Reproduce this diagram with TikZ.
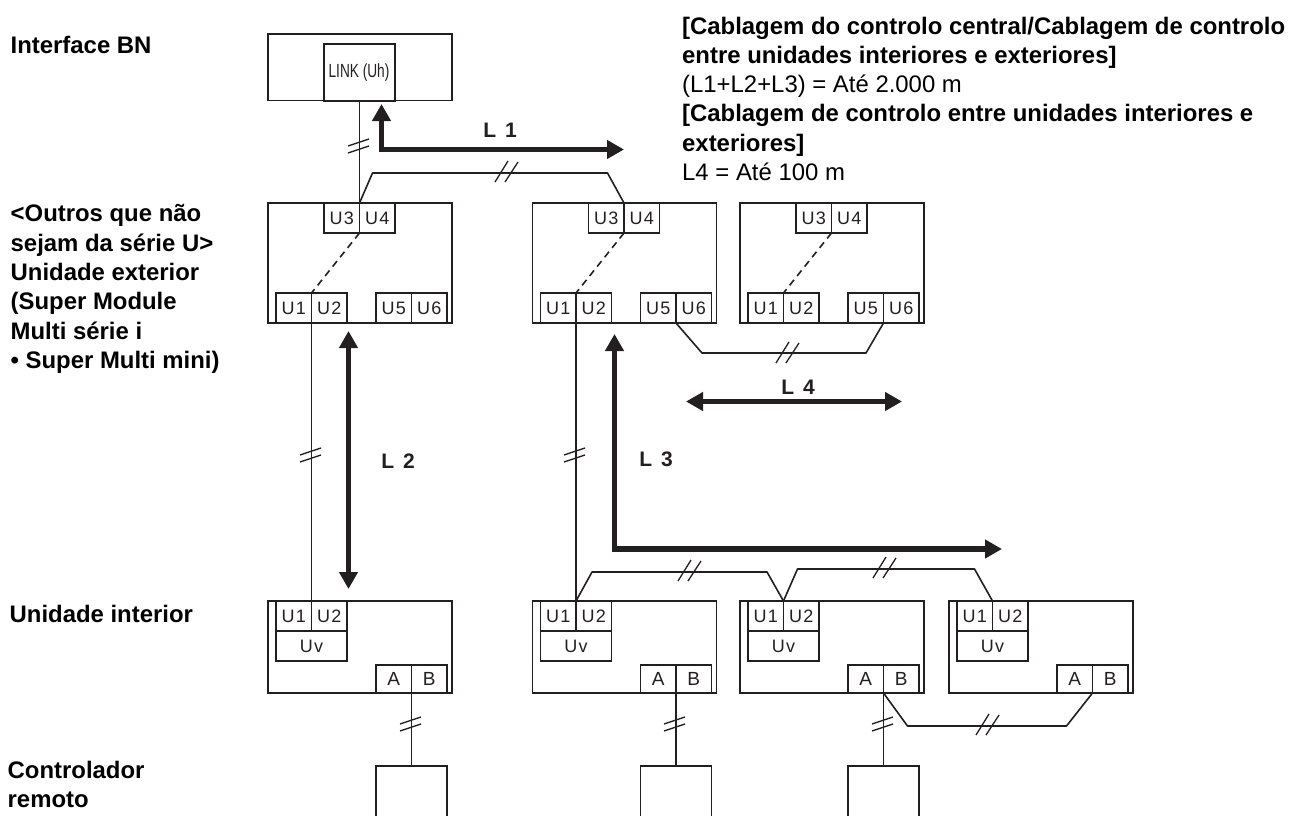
\documentclass[tikz,border=0pt]{standalone}
\usepackage{fontspec}
\setmainfont{Liberation Sans}
\newfontfamily\termfont[LetterSpace=6]{Liberation Sans}
\newfontfamily\linkfont[FakeStretch=0.72]{Liberation Sans}
\usetikzlibrary{arrows.meta,calc}
\definecolor{ink}{HTML}{231F20}
\tikzset{
  unitbox/.style={draw=ink,line width=1.6pt,anchor=north west,inner sep=0pt,outer sep=0pt,minimum width=184pt},
  term/.style={unitbox,minimum width=35.5pt,minimum height=30pt,text=ink,font=\termfont\fontsize{18}{20}\selectfont},
  wire/.style={draw=ink,line width=1.6pt,line join=round},
  bigarrow/.style={draw=ink,line width=5.5pt,{Triangle[length=17pt,width=18pt]}-{Triangle[length=17pt,width=18pt]}},
  sidetext/.style={anchor=north west,inner sep=0pt,align=left,font=\bfseries\fontsize{23.9}{29.3}\selectfont},
  lentext/.style={inner sep=0pt,text=ink,font=\bfseries\fontsize{21}{24}\selectfont},
  vslash/.pic={\draw[ink,line width=1.3pt] (-12,0) -- (9,-7) (-12,7) -- (9,0);},
  hslash/.pic={\draw[ink,line width=1.3pt] (-12,9) -- (1,-12) (-2,9) -- (11,-11);}
}
\begin{document}
\begin{tikzpicture}[x=1pt,y=-1pt]
  \clip (0,0) rectangle (1299,816);
  \useasboundingbox (0,0) rectangle (1299,816);
  %testi
  \node[sidetext] (tbn) at (10.5,35.5) {Interface BN};
  \node[sidetext] (tout) at (10.5,204.5) {<Outros que não\\sejam da série U>\\Unidade exterior\\(Super Module\\Multi série i\\• Super Multi mini)};
  \node[sidetext] (tin) at (9.5,604.5) {Unidade interior};
  \node[sidetext] (trem) at (7.5,760.5) {Controlador\\remoto};
  \node[sidetext] (tnote) at (682,16.5) {[Cablagem do controlo central/Cablagem de controlo\\entre unidades interiores e exteriores]\\{\mdseries (L1+L2+L3) = Até 2.000 m}\\{}[Cablagem de controlo entre unidades interiores e\\exteriores]\\{\mdseries L4 = Até 100 m}};
  %interfaccia
  \node[unitbox,minimum height=66.5pt] (bn) at (268,34) {};
  \node[unitbox,line width=2pt,minimum width=71pt,minimum height=56.5pt,font=\linkfont\fontsize{19}{22}\selectfont,text=ink] (link) at (323.5,44) {LINK (Uh)};
  %unita esterne
  \foreach \n/\x in {a/268,b/532.5,c/740}{
    \node[unitbox,minimum height=120pt] (o\n) at (\x,203) {};
    \node[term] (o\n3) at (\x+56,203) {U3};
    \node[term] (o\n4) at (o\n3.north east) {U4};
    \node[term] (o\n1) at (\x+8,293) {U1};
    \node[term] (o\n2) at (o\n1.north east) {U2};
    \node[term] (o\n5) at (\x+108,293) {U5};
    \node[term] (o\n6) at (o\n5.north east) {U6};
    \draw[wire,dashed,dash pattern=on 7pt off 5pt] (o\n3.south east) -- (o\n1.north east);
  }
  %unita interne
  \foreach \n/\x in {a/268,b/532.5,c/740,d/949}{
    \node[unitbox,minimum height=92pt] (i\n) at (\x,601) {};
    \node[term] (i\n1) at (\x+8,601) {U1};
    \node[term] (i\n2) at (i\n1.north east) {U2};
    \node[term,minimum width=71pt] (i\n u) at (i\n1.south west) {Uv};
    \node[term,font=\fontsize{19}{20}\selectfont,minimum height=28pt] (i\n a) at (\x+108,665) {A};
    \node[term,font=\fontsize{19}{20}\selectfont,minimum height=28pt] (i\n b) at (i\n a.north east) {B};
  }
  %comandi remoti
  \foreach \n in {a,b,c}{
    \node[unitbox,minimum width=71pt,minimum height=70pt] (r\n) at ($(i\n a.south east)+(-35.5,73)$) {};
    \draw[wire] (i\n a.south east) -- (r\n.north);
  }
  %collegamenti
  \draw[wire] (oa3.north east) -- (oa3.north east |- bn.south);
  \draw[wire] (oa3.north east) -- ++(13,-30) -- ++(235,0) -- (ob3.north east);
  \draw[wire] (ob5.south east) -- ++(26,30) -- ++(164,0) -- (oc5.south east);
  \draw[wire] (oa1.south east) -- (ia1.north east);
  \draw[wire] (ob1.south east) -- (ib1.north east);
  \draw[wire] (ib1.north east) -- ++(16,-29) -- ++(175,0) -- (ic1.north east);
  \draw[wire] (ic1.north east) -- ++(14,-32) -- ++(177,0) -- (id1.north east);
  \draw[wire] (ica.south east) -- ++(24,33) -- ++(159,0) -- (ida.south east);
  %interruzioni
  \pic at (360,146) {vslash};
  \pic at (312,455) {vslash};
  \pic at (576,455) {vslash};
  \pic at (412,724) {vslash};
  \pic at (676,724) {vslash};
  \pic at (884,724) {vslash};
  \pic at (507,173) {hslash};
  \pic at (788,354) {hslash};
  \pic at (690,572) {hslash};
  \pic at (885,569) {hslash};
  \pic at (988,726) {hslash};
  %distanze
  \coordinate (l1a) at (381.5,104);
  \coordinate (l1b) at (624,149.5);
  \coordinate (l2a) at (348.5,331);
  \coordinate (l2b) at (348.5,589);
  \coordinate (l3a) at (614.5,334);
  \coordinate (l3b) at (1002,549);
  \coordinate (l4a) at (686,401.5);
  \coordinate (l4b) at (902,401.5);
  \draw[bigarrow] (l1a) |- (l1b);
  \draw[bigarrow] (l2a) -- (l2b);
  \draw[bigarrow] (l3a) |- (l3b);
  \draw[bigarrow] (l4a) -- (l4b);
  \node[lentext] (l1) at (500,130) {L\hspace{9pt}1};
  \node[lentext] (l2) at (398,461) {L\hspace{9pt}2};
  \node[lentext] (l3) at (656,459) {L\hspace{9pt}3};
  \node[lentext] (l4) at (798,387) {L\hspace{9pt}4};
\end{tikzpicture}
\end{document}
